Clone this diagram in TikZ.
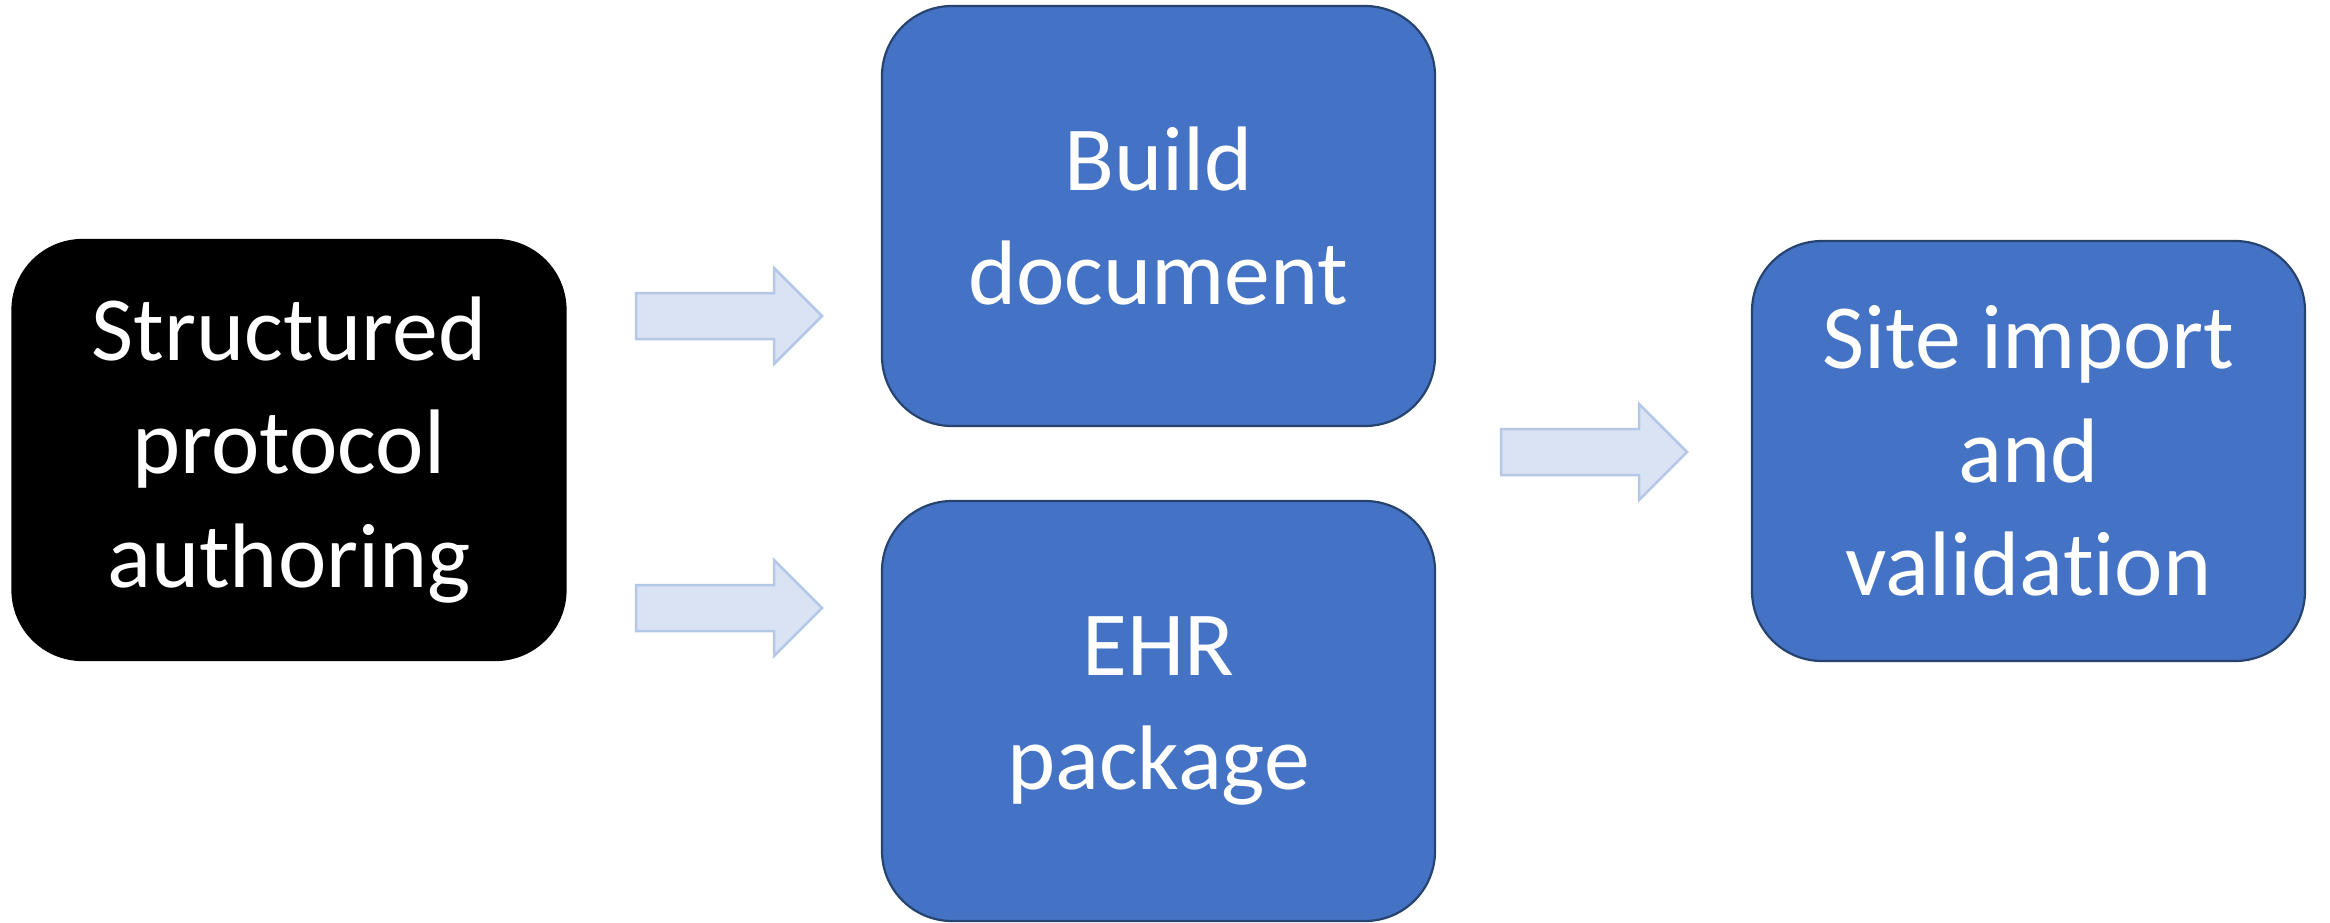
\documentclass[tikz,border=0pt]{standalone}
\usepackage{fontspec}
\setmainfont{Carlito}[Ligatures={NoCommon,NoRequired,NoContextual}]
\definecolor{boxblue}{HTML}{4472C4}
\definecolor{boxedge}{HTML}{26446F}
\definecolor{arrowfill}{HTML}{DAE3F3}
\definecolor{arrowedge}{HTML}{B4C7E7}
\tikzset{
  stagebox/.style={rounded corners=70bp, line width=2.2bp, minimum width=553bp,
    minimum height=420bp, inner sep=0pt},
  bluebox/.style={stagebox, fill=boxblue, draw=boxedge},
  darkbox/.style={stagebox, fill=black, draw=black},
  boxtext/.style={text=white, align=center, font=\fontsize{92}{114}\selectfont},
  blockarrow/.pic={
    \draw[fill=arrowfill, draw=arrowedge, line width=2.5bp, line join=miter]
      (0,-23) -- (138,-23) -- (138,-48) -- (186,0) -- (138,48) -- (138,23)
      -- (0,23) -- cycle;
  }
}
\begin{document}
\begin{tikzpicture}[x=1bp, y=-1bp]
  \useasboundingbox (0,0) rectangle (2330,922);

  % stages
  \node[darkbox] (author) at (289,450) {};
  \node[bluebox] (build)  at (1158.5,216) {};
  \node[bluebox] (ehr)    at (1158.5,711) {};
  \node[bluebox] (site)   at (2028.5,451) {};

  \node[boxtext] (authortxt) at (author) {Structured\\protocol\\authoring};
  \node[boxtext] (buildtxt)  at (build)  {Build\\document};
  \node[boxtext] (ehrtxt)    at (ehr)    {EHR\\package};
  \node[boxtext] (sitetxt)   at (site)   {Site import\\and\\validation};

  % block arrows between stages
  \coordinate (a1) at (636,316);
  \coordinate (a2) at (636,608);
  \coordinate (a3) at (1501,452);
  \pic at (a1) {blockarrow};
  \pic at (a2) {blockarrow};
  \pic at (a3) {blockarrow};
\end{tikzpicture}
\end{document}
